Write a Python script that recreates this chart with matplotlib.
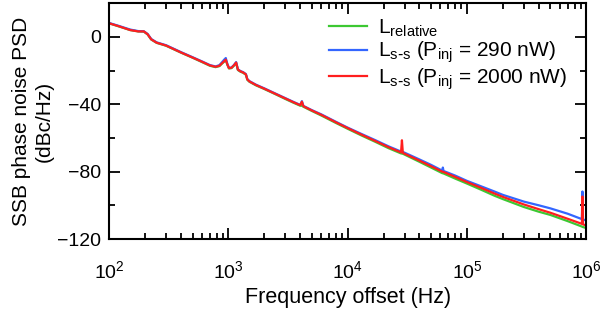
import matplotlib
matplotlib.use("Agg")
import matplotlib.pyplot as plt
from matplotlib.ticker import LogLocator, MultipleLocator, NullFormatter

plt.rcParams['font.family'] = ['Liberation Sans', 'DejaVu Sans']
plt.rcParams['mathtext.default'] = 'regular'
plt.rcParams['axes.unicode_minus'] = True

# offset frequency (Hz)
freq = [100, 120, 150, 175, 195, 210, 225, 250, 300, 400, 500, 600, 700, 780,
        840, 880, 920, 950, 980, 1010, 1060, 1110, 1160, 1200, 1260, 1330,
        1400, 1440, 1500, 1700, 2000, 2500, 3000, 3500, 4000, 4130, 4250,
        5000, 6000, 8000, 10000, 13000, 17000, 22000, 28000, 28500, 29000,
        40000, 50000, 62000, 62800, 63600, 80000, 100000, 130000, 170000,
        200000, 300000, 400000, 500000, 700000, 920000, 930000, 940000, 980000]

# L_relative (green)
l_rel = [8.0, 6.2, 4.0, 3.2, 3.1, 1.4, -1.6, -3.6, -5.3, -9.4, -12.4, -15.0,
         -17.2, -18.0, -17.4, -16.0, -14.8, -13.8, -16.6, -18.8, -18.6, -17.2,
         -15.6, -19.7, -20.7, -21.4, -22.5, -25.5, -26.7, -28.8, -31.0, -34.2,
         -36.9, -39.1, -40.9, -40.9, -41.5, -44.0, -46.7, -51.2, -54.6, -58.5,
         -62.3, -66.1, -69.2, -69.3, -69.4, -74.2, -77.6, -80.9, -81.0, -81.1,
         -84.2, -87.1, -90.6, -94.3, -96.3, -101.0, -103.8, -105.7, -109.4,
         -112.6, -112.8, -112.9, -113.3]

# L_s-s, P_inj = 290 nW (blue)
l_290 = [8.2, 6.5, 4.3, 3.4, 3.3, 1.7, -1.3, -3.3, -5.0, -9.1, -12.1, -14.6,
         -16.8, -17.6, -16.8, -15.2, -13.6, -12.6, -16.2, -18.4, -18.2, -16.8,
         -15.0, -19.3, -20.3, -21.0, -22.1, -25.1, -26.3, -28.4, -30.6, -33.8,
         -36.4, -38.6, -40.4, -38.2, -41.0, -43.5, -46.0, -50.5, -53.9, -57.6,
         -61.3, -65.0, -68.1, -68.2, -68.3, -72.8, -76.0, -79.4, -77.6, -79.6,
         -82.4, -85.5, -88.6, -91.8, -93.8, -97.8, -100.0, -101.8, -105.0,
         -108.2, -91.8, -108.4, -108.8]

# L_s-s, P_inj = 2000 nW (red)
l_2000 = [8.0, 6.3, 4.0, 3.2, 3.2, 1.5, -1.5, -3.5, -5.2, -9.3, -12.3, -14.8,
          -17.0, -17.8, -17.2, -15.8, -14.5, -13.6, -16.5, -18.6, -18.4, -17.0,
          -15.3, -19.5, -20.5, -21.2, -22.3, -25.3, -26.5, -28.6, -30.8, -34.0,
          -36.6, -38.8, -40.6, -38.5, -41.2, -43.7, -46.3, -50.8, -54.2, -58.0,
          -61.8, -65.5, -68.6, -61.4, -68.9, -73.5, -76.8, -80.0, -80.1, -80.2,
          -83.2, -86.2, -89.5, -93.0, -95.0, -99.5, -102.3, -104.4, -108.0,
          -111.0, -94.8, -111.3, -111.8]

labels = [r'$L_{relative}$',
          r'$L_{s\text{-}s}$ ($P_{inj}$ = 290 nW)',
          r'$L_{s\text{-}s}$ ($P_{inj}$ = 2000 nW)']
colors = ['#3cc832', '#3366ff', '#ff1e1e']

fig = plt.figure(figsize=(6.0, 3.1), dpi=100)
ax = fig.add_axes([0.182, 0.229, 0.795, 0.761])

for y, lab, c in zip([l_rel, l_290, l_2000], labels, colors):
    ax.plot(freq, y, color=c, lw=1.6, label=lab)

ax.set_xscale('log')
ax.set_xlim(100, 1e6)
ax.set_ylim(-120, 20)
ax.yaxis.set_minor_locator(MultipleLocator(20))
ax.set_yticks([-120, -80, -40, 0])
ax.xaxis.set_major_locator(LogLocator(base=10, numticks=10))
ax.xaxis.set_minor_locator(LogLocator(base=10, subs=range(2, 10), numticks=20))
ax.xaxis.set_minor_formatter(NullFormatter())

for s in ax.spines.values():
    s.set_linewidth(1.5)
ax.tick_params(which='both', direction='in', top=True, right=True, width=1.3,
               labelsize=14)
ax.tick_params(which='major', length=8)
ax.tick_params(which='minor', length=4.5)
ax.tick_params(axis='x', pad=15)
ax.tick_params(axis='y', pad=6)

ax.set_xlabel('Frequency offset (Hz)', fontsize=15.5, labelpad=4)
ax.set_ylabel('SSB phase noise PSD\n(dBc/Hz)', fontsize=15, labelpad=2,
              linespacing=1.3)

ax.legend(loc='upper left', bbox_to_anchor=(0.46, 0.94), frameon=False,
          fontsize=15, handlelength=1.85, handletextpad=0.5, labelspacing=0.05,
          borderpad=0.0, borderaxespad=0.0)

fig.savefig('out.png', dpi=100)
